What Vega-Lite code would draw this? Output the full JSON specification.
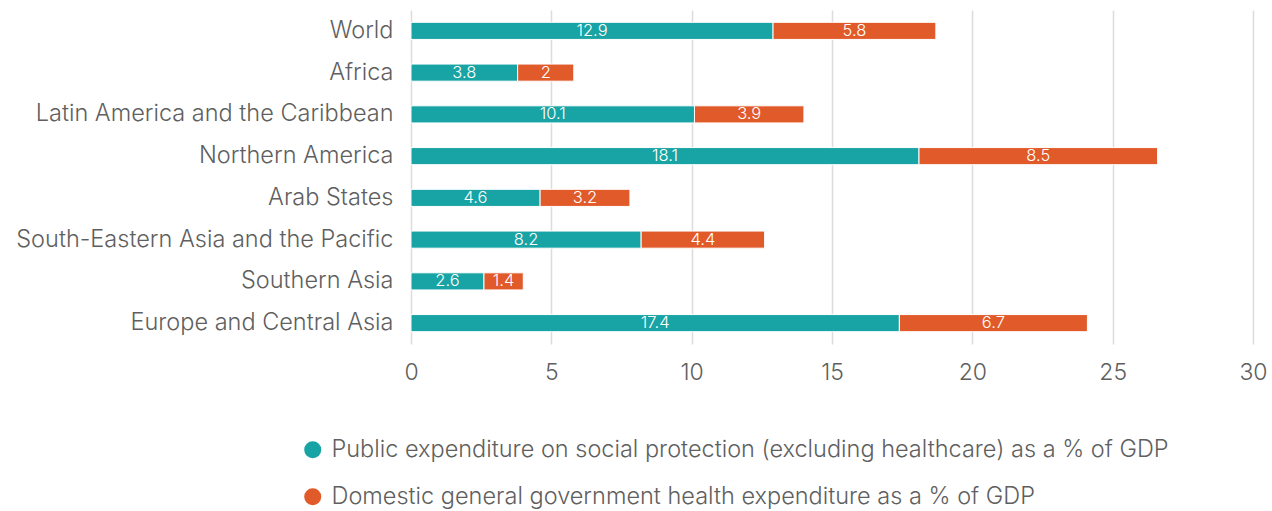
{
  "$schema": "https://vega.github.io/schema/vega-lite/v6.json",
  "autosize": {"type": "none"},
  "width": 842,
  "height": 334,
  "padding": {"left": 411, "top": 10, "right": 19, "bottom": 167},
  "config": {
    "font": "Inter",
    "view": {"stroke": null},
    "axis": {"labelFont": "Inter", "labelFontWeight": 300}
  },
  "data": {
    "values": [
      {"region": "World", "series": "Public expenditure on social protection (excluding healthcare) as a % of GDP", "k": 1, "value": 12.9},
      {"region": "World", "series": "Domestic general government health expenditure as a % of GDP", "k": 2, "value": 5.8},
      {"region": "Africa", "series": "Public expenditure on social protection (excluding healthcare) as a % of GDP", "k": 1, "value": 3.8},
      {"region": "Africa", "series": "Domestic general government health expenditure as a % of GDP", "k": 2, "value": 2},
      {"region": "Latin America and the Caribbean", "series": "Public expenditure on social protection (excluding healthcare) as a % of GDP", "k": 1, "value": 10.1},
      {"region": "Latin America and the Caribbean", "series": "Domestic general government health expenditure as a % of GDP", "k": 2, "value": 3.9},
      {"region": "Northern America", "series": "Public expenditure on social protection (excluding healthcare) as a % of GDP", "k": 1, "value": 18.1},
      {"region": "Northern America", "series": "Domestic general government health expenditure as a % of GDP", "k": 2, "value": 8.5},
      {"region": "Arab States", "series": "Public expenditure on social protection (excluding healthcare) as a % of GDP", "k": 1, "value": 4.6},
      {"region": "Arab States", "series": "Domestic general government health expenditure as a % of GDP", "k": 2, "value": 3.2},
      {"region": "South-Eastern Asia and the Pacific", "series": "Public expenditure on social protection (excluding healthcare) as a % of GDP", "k": 1, "value": 8.2},
      {"region": "South-Eastern Asia and the Pacific", "series": "Domestic general government health expenditure as a % of GDP", "k": 2, "value": 4.4},
      {"region": "Southern Asia", "series": "Public expenditure on social protection (excluding healthcare) as a % of GDP", "k": 1, "value": 2.6},
      {"region": "Southern Asia", "series": "Domestic general government health expenditure as a % of GDP", "k": 2, "value": 1.4},
      {"region": "Europe and Central Asia", "series": "Public expenditure on social protection (excluding healthcare) as a % of GDP", "k": 1, "value": 17.4},
      {"region": "Europe and Central Asia", "series": "Domestic general government health expenditure as a % of GDP", "k": 2, "value": 6.7}
    ]
  },
  "transform": [
    {"stack": "value", "groupby": ["region"], "sort": [{"field": "k", "order": "ascending"}], "as": ["v0", "v1"]},
    {"calculate": "(datum.v0 + datum.v1) / 2", "as": "mid"}
  ],
  "encoding": {
    "y": {
      "field": "region",
      "type": "nominal",
      "sort": ["World", "Africa", "Latin America and the Caribbean", "Northern America", "Arab States", "South-Eastern Asia and the Pacific", "Southern Asia", "Europe and Central Asia"],
      "scale": {"paddingInner": 0.59, "paddingOuter": 0.295},
      "axis": {
        "title": null,
        "domain": false,
        "ticks": false,
        "labelFontSize": 23.5,
        "labelColor": "#5f5f5f",
        "labelPadding": 18,
        "labelLimit": 420
      }
    }
  },
  "layer": [
    {
      "mark": {"type": "bar", "stroke": "white", "strokeWidth": 1},
      "encoding": {
        "x": {
          "field": "v0",
          "type": "quantitative",
          "scale": {"domain": [0, 30]},
          "axis": {
            "title": null,
            "values": [0, 5, 10, 15, 20, 25, 30],
            "domain": false,
            "ticks": false,
            "grid": true,
            "gridColor": "#dcdcdc",
            "gridWidth": 1.5,
            "labelFlush": false,
            "labelFontSize": 23,
            "labelColor": "#5f5f5f",
            "labelPadding": 17
          }
        },
        "x2": {"field": "v1"},
        "color": {
          "field": "series",
          "type": "nominal",
          "scale": {
            "domain": ["Public expenditure on social protection (excluding healthcare) as a % of GDP", "Domestic general government health expenditure as a % of GDP"],
            "range": ["#18a3a4", "#e05a2a"]
          },
          "legend": {
            "title": null,
            "orient": "none",
            "direction": "vertical",
            "legendX": -110,
            "legendY": 428,
            "symbolType": "circle",
            "symbolSize": 290,
            "symbolStrokeWidth": 0,
            "labelFontSize": 23.5,
            "labelFont": "Inter",
            "labelFontWeight": 300,
            "labelColor": "#5f5f5f",
            "labelOffset": 7,
            "labelLimit": 1000,
            "rowPadding": 22
          }
        }
      }
    },
    {
      "mark": {"type": "text", "color": "white", "fontSize": 16.5, "font": "Inter", "fontWeight": 300, "baseline": "middle", "align": "center"},
      "encoding": {
        "x": {"field": "mid", "type": "quantitative"},
        "text": {"field": "value", "type": "quantitative"}
      }
    }
  ]
}
